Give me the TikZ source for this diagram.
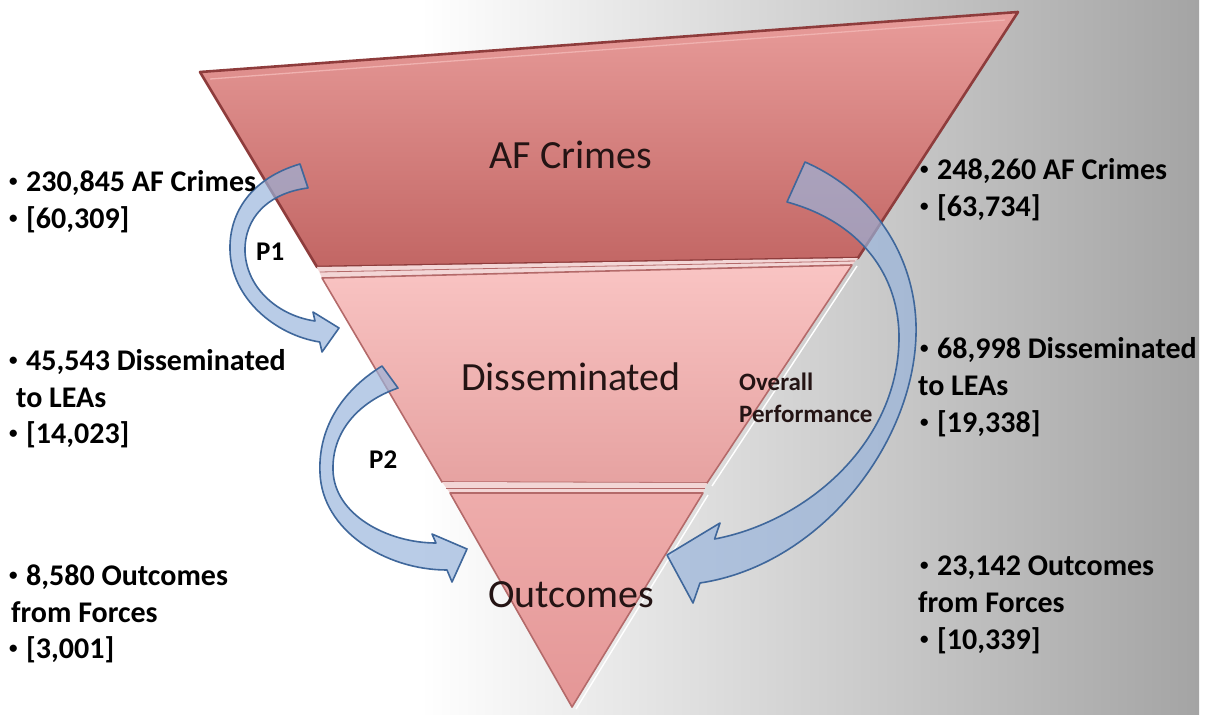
\documentclass[tikz,border=0pt]{standalone}
\usepackage{fontspec}
\setmainfont{Carlito}
\usetikzlibrary{calc}
\definecolor{bggrey}{HTML}{A4A4A4}
\definecolor{rimdark}{HTML}{8E3C3C}
\definecolor{rimmid}{HTML}{B46A6A}
\definecolor{gapfill}{HTML}{F3D6D6}
\definecolor{arrowfill}{HTML}{98B4DC}
\definecolor{arrowline}{HTML}{3F679B}
\definecolor{labtxt}{HTML}{241414}
\definecolor{aTop}{RGB}{232,156,154}
\definecolor{aBot}{RGB}{194,102,100}
\definecolor{bTop}{RGB}{249,196,195}
\definecolor{bBot}{RGB}{230,162,161}
\definecolor{cTop}{RGB}{238,172,171}
\definecolor{cBot}{RGB}{228,150,150}
\definecolor{aHi}{RGB}{240,178,176}
\newcommand\mybul{\makebox[17pt][l]{\raisebox{5pt}{\fontsize{17}{17}\selectfont •}}}
\tikzset{
  bandA/.style={top color=aTop, bottom color=aBot},
  bandB/.style={top color=bTop, bottom color=bBot},
  bandC/.style={top color=cTop, bottom color=cBot},
  rimA/.style={draw=rimdark, line width=2.6, line join=round},
  rimB/.style={draw=rimmid, line width=1.6, line join=round},
  gapsty/.style={fill=gapfill},
  arrowsty/.style={fill=arrowfill, fill opacity=0.68, draw=arrowline, line width=1.6, line join=round},
  side/.style={font=\fontsize{30}{34}\selectfont\bfseries, text=black, inner sep=0pt, anchor=base west},
  lab/.style={font=\fontsize{40}{46}\selectfont, text=labtxt, inner sep=0pt, anchor=base},
  smalllab/.style={font=\fontsize{25}{30}\selectfont\bfseries, text=labtxt, inner sep=0pt, anchor=base west},
  plab/.style={font=\fontsize{27}{32}\selectfont\bfseries, text=black, inner sep=0pt, anchor=base west}
}
\begin{document}
\begin{tikzpicture}[x=1pt,y=-1pt]
\useasboundingbox (0,0) rectangle (1206,714);
% background
\fill[white] (0,0) rectangle (1206,714);
\shade[left color=white, right color=bggrey] (420,0) rectangle (1199,714);
% top band
\shade[bandA] (200,72) -- (1018,12) -- (858,258) -- (317,267) -- cycle;
\draw[rimA] (200,72) -- (1018,12) -- (858,258) -- (317,267) -- cycle;
\draw[aHi, line width=1.3] (210,79) -- (1005,20);
% gap 1
\fill[gapsty] (317,267) -- (858,258) -- (852,265) -- (322,278) -- cycle;
\draw[rimmid, line width=0.8] (320,272) -- (855,261);
% middle band
\shade[bandB] (322,278) -- (852,265) -- (707,483) -- (442,482) -- cycle;
\draw[rimB] (322,278) -- (852,265) -- (707,483) -- (442,482) -- cycle;
\draw[white, line width=1.4] (857,266) -- (712,486);
% gap 2
\fill[gapsty] (442,482) -- (707,483) -- (703,493) -- (450,493) -- cycle;
\draw[rimmid, line width=0.8] (446,488) -- (705,488);
% outcomes band
\shade[bandC] (450,493) -- (703,493) -- (572,707) -- cycle;
\draw[rimB] (450,493) -- (703,493) -- (572,707) -- cycle;
\draw[white, line width=1.4] (708,495) -- (576,709);
% labels in the funnel
\node[lab] (afc) at (571,168) {AF Crimes};
\node[lab] (dis) at (571,390) {Disseminated};
\node[lab] (out) at (571,607) {Outcomes};
% arrows
\path[arrowsty] (300,164) .. controls (252,178) and (229,212) .. (230,250)
  .. controls (231,298) and (275,335) .. (319.75,342) -- (322,352) -- (339,328) -- (313,312) -- (315,321)
  .. controls (280,316) and (247,290) .. (245,252)
  .. controls (244,218) and (268,193) .. (308,188) -- cycle;
\path[arrowsty] (382,366) .. controls (340,392) and (318,430) .. (320,473)
  .. controls (322,530) and (385,570) .. (447,570) -- (452,582) -- (467,549) -- (432,534) -- (436,543)
  .. controls (388,543) and (334,515) .. (333,470)
  .. controls (332,432) and (358,402) .. (398,388) -- cycle;
\path[arrowsty] (805,162) .. controls (880,195) and (918,265) .. (916,335)
  .. controls (913,445) and (820,565) .. (700,583) -- (693,603) -- (667,555) -- (720,523) -- (714.6,539)
  .. controls (805,522) and (897,445) .. (899,340)
  .. controls (900,275) and (860,222) .. (787,202) -- cycle;
% arrow labels
\node[plab] (p1) at (256,260) {P1};
\node[plab] (p2) at (369,468) {P2};
\node[smalllab] (ov1) at (739,390) {Overall};
\node[smalllab] (ov2) at (739,422) {Performance};
% left texts
\node[side] (l1) at (9,191) {\mybul 230,845 AF Crimes};
\node[side] (l2) at (9,228) {\mybul [60,309]};
\node[side] (l3) at (9,370) {\mybul 45,543 Disseminated};
\node[side] (l4) at (16,407) {to LEAs};
\node[side] (l5) at (9,443) {\mybul [14,023]};
\node[side] (l6) at (9,585) {\mybul 8,580 Outcomes};
\node[side] (l7) at (11,622) {from Forces};
\node[side] (l8) at (9,658) {\mybul [3,001]};
% right texts
\node[side] (r1) at (920,179) {\mybul 248,260 AF Crimes};
\node[side] (r2) at (920,216) {\mybul [63,734]};
\node[side] (r3) at (920,358) {\mybul 68,998 Disseminated};
\node[side] (r4) at (918,395) {to LEAs};
\node[side] (r5) at (920,432) {\mybul [19,338]};
\node[side] (r6) at (920,575) {\mybul 23,142 Outcomes};
\node[side] (r7) at (918,612) {from Forces};
\node[side] (r8) at (920,649) {\mybul [10,339]};
\end{tikzpicture}
\end{document}
